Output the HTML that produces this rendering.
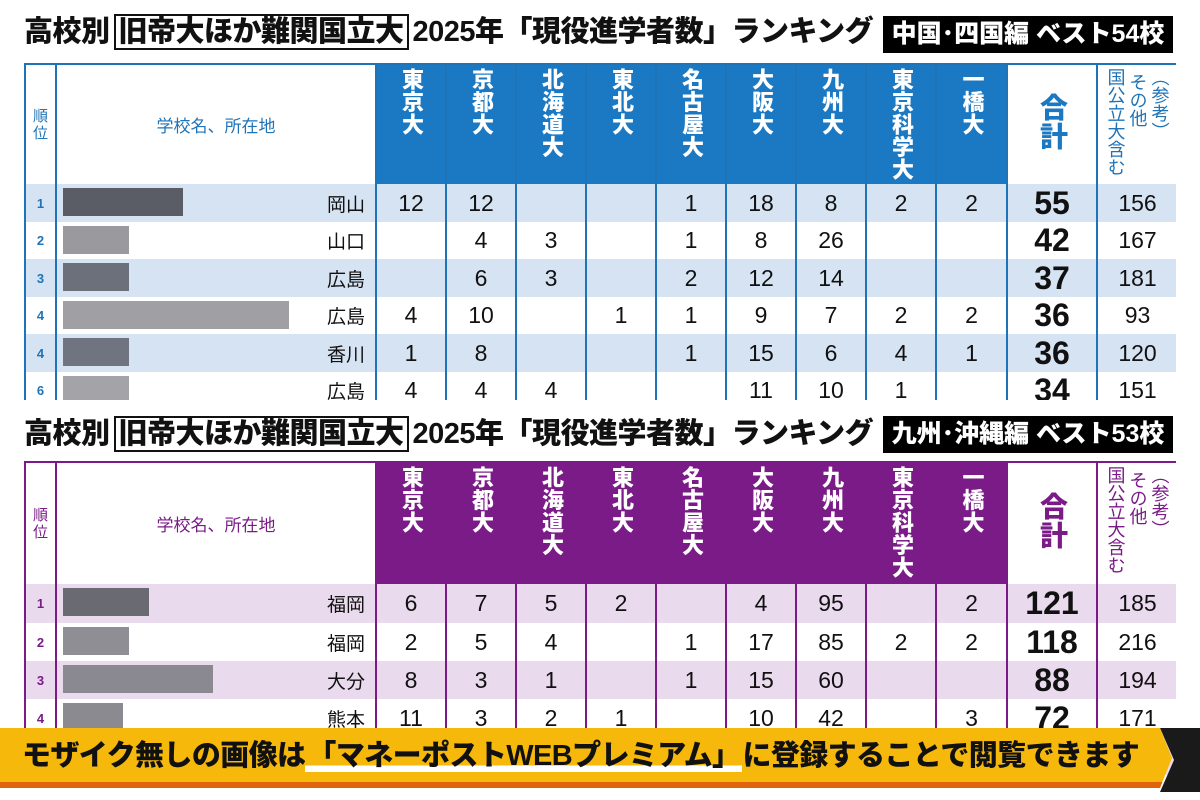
<!DOCTYPE html>
<html><head><meta charset="utf-8"><style>
*{margin:0;padding:0;box-sizing:border-box}
body{width:1200px;height:800px;overflow:hidden;background:#fff;font-family:"Liberation Sans","Noto Sans CJK JP",sans-serif;position:relative}
.title{position:absolute;left:24px;height:40px;font-weight:900;font-size:29px;line-height:40px;color:#111;white-space:nowrap;letter-spacing:-0.5px}
.title .bx{border:2px solid #111;padding:0 3px;margin:0 4px}
.tag{position:absolute;background:#000;color:#fff;font-weight:900;font-size:25px;line-height:37px;text-align:center;white-space:nowrap}
.wrap{position:absolute;left:24px;width:1152px;overflow:hidden}
table{border-collapse:collapse;table-layout:fixed;width:1152px}
td{text-align:center;font-size:23px;color:#111;overflow:hidden;white-space:nowrap;padding:0}
.hh{height:116px;overflow:hidden;padding-top:3px}
.v{writing-mode:vertical-rl;display:inline-block;font-size:22px;font-weight:900;color:#fff;line-height:26px;letter-spacing:0.5px}
.rk{font-size:13px;font-weight:700}
.pf{text-align:right;padding-right:10px;font-size:19px}
.tot{font-size:32px;font-weight:900}
.b td{border-left:2px solid #1f73b7;border-right:2px solid #1f73b7}
.b .h td{border-top:2px solid #1f73b7}
.b .hc{background:#1b78c2}
.b .l{background:#d6e3f3}
.b .rk,.b .sm{color:#1f73b7}
.p td{border-left:2px solid #7a1b87;border-right:2px solid #7a1b87}
.p .h td{border-top:2px solid #7a1b87}
.p .hc{background:#7a1b87}
.p .l{background:#eadaee}
.p .rk,.p .sm{color:#7a1b87}
.sm{font-size:17px;font-weight:400}
.sv{writing-mode:vertical-rl;display:inline-block;font-size:18px;line-height:22px;text-align:left;font-weight:400}
.tt{writing-mode:vertical-rl;display:inline-block;font-size:28px;font-weight:900;line-height:30px;letter-spacing:1px}
.mz{position:relative}
.mz i{position:absolute;top:4px;height:28px;display:block}
.banner{position:absolute;left:0;top:728px;width:1172px;height:60px;background:#f6b80a;border-bottom:6px solid #e0640c;clip-path:polygon(0 0,1160px 0,1172px 30px,1160px 60px,0 60px)}
.btx{position:absolute;left:22px;top:732px;font-size:29px;font-weight:900;color:#111;white-space:nowrap;letter-spacing:-0.6px}
.btx span{background:linear-gradient(#f6b80a 0,#f6b80a 80%,#fff 80%);padding:0 2px}
.darr{position:absolute;left:1160px;top:728px;width:40px;height:64px;background:#1a1a1a;clip-path:polygon(0 0,40px 0,40px 64px,0 64px,14px 32px)}
</style></head><body>

<div class="title" style="top:12px">高校別<span class="bx">旧帝大ほか難関国立大</span>2025年「現役進学者数」ランキング</div>
<div class="tag" style="left:883px;top:16px;width:290px">中国･四国編 ベスト54校</div>

<div class="wrap b" style="top:63px;height:337px">
<table>
<colgroup><col style="width:31px"><col style="width:320px"><col style="width:70px"><col style="width:70px"><col style="width:70px"><col style="width:70px"><col style="width:70px"><col style="width:70px"><col style="width:70px"><col style="width:70px"><col style="width:71px"><col style="width:90px"><col style="width:81px"></colgroup>
<tr class="h" style="height:120px">
<td class="rk sm" style="font-size:15px;line-height:17px;font-weight:400">順<br>位</td>
<td class="sm">学校名、所在地</td>
<td class="hc" style="vertical-align:top"><div class="hh"><span class="v">東京大</span></div></td>
<td class="hc" style="vertical-align:top"><div class="hh"><span class="v">京都大</span></div></td>
<td class="hc" style="vertical-align:top"><div class="hh"><span class="v">北海道大</span></div></td>
<td class="hc" style="vertical-align:top"><div class="hh"><span class="v">東北大</span></div></td>
<td class="hc" style="vertical-align:top"><div class="hh"><span class="v">名古屋大</span></div></td>
<td class="hc" style="vertical-align:top"><div class="hh"><span class="v">大阪大</span></div></td>
<td class="hc" style="vertical-align:top"><div class="hh"><span class="v">九州大</span></div></td>
<td class="hc" style="vertical-align:top"><div class="hh"><span class="v">東京科学大</span></div></td>
<td class="hc" style="vertical-align:top"><div class="hh"><span class="v">一橋大</span></div></td>
<td><span class="tt" style="color:#1b78c2">合計</span></td>
<td class="sm" style="vertical-align:top"><div class="hh"><span class="sv">（参考）<br>&nbsp;その他<br>国公立大含む</span></div></td>
</tr>
<tr class="l" style="height:38px"><td class="rk">1</td><td class="pf mz"><i style="left:6px;width:120px;background:#5a5d66"></i>岡山</td><td>12</td><td>12</td><td></td><td></td><td>1</td><td>18</td><td>8</td><td>2</td><td>2</td><td class="tot">55</td><td>156</td></tr>
<tr style="height:37px"><td class="rk">2</td><td class="pf mz"><i style="left:6px;width:66px;background:#9a9a9e"></i>山口</td><td></td><td>4</td><td>3</td><td></td><td>1</td><td>8</td><td>26</td><td></td><td></td><td class="tot">42</td><td>167</td></tr>
<tr class="l" style="height:38px"><td class="rk">3</td><td class="pf mz"><i style="left:6px;width:66px;background:#6c707a"></i>広島</td><td></td><td>6</td><td>3</td><td></td><td>2</td><td>12</td><td>14</td><td></td><td></td><td class="tot">37</td><td>181</td></tr>
<tr style="height:37px"><td class="rk">4</td><td class="pf mz"><i style="left:6px;width:226px;background:#a0a0a4"></i>広島</td><td>4</td><td>10</td><td></td><td>1</td><td>1</td><td>9</td><td>7</td><td>2</td><td>2</td><td class="tot">36</td><td>93</td></tr>
<tr class="l" style="height:38px"><td class="rk">4</td><td class="pf mz"><i style="left:6px;width:66px;background:#707480"></i>香川</td><td>1</td><td>8</td><td></td><td></td><td>1</td><td>15</td><td>6</td><td>4</td><td>1</td><td class="tot">36</td><td>120</td></tr>
<tr style="height:37px"><td class="rk">6</td><td class="pf mz"><i style="left:6px;width:66px;background:#a4a4a8"></i>広島</td><td>4</td><td>4</td><td>4</td><td></td><td></td><td>11</td><td>10</td><td>1</td><td></td><td class="tot">34</td><td>151</td></tr>
</table></div>

<div class="title" style="top:414px">高校別<span class="bx">旧帝大ほか難関国立大</span>2025年「現役進学者数」ランキング</div>
<div class="tag" style="left:883px;top:416px;width:290px">九州･沖縄編 ベスト53校</div>

<div class="wrap p" style="top:461px;height:339px">
<table>
<colgroup><col style="width:31px"><col style="width:320px"><col style="width:70px"><col style="width:70px"><col style="width:70px"><col style="width:70px"><col style="width:70px"><col style="width:70px"><col style="width:70px"><col style="width:70px"><col style="width:71px"><col style="width:90px"><col style="width:81px"></colgroup>
<tr class="h" style="height:122px">
<td class="rk sm" style="font-size:15px;line-height:17px;font-weight:400">順<br>位</td>
<td class="sm">学校名、所在地</td>
<td class="hc" style="vertical-align:top"><div class="hh"><span class="v">東京大</span></div></td>
<td class="hc" style="vertical-align:top"><div class="hh"><span class="v">京都大</span></div></td>
<td class="hc" style="vertical-align:top"><div class="hh"><span class="v">北海道大</span></div></td>
<td class="hc" style="vertical-align:top"><div class="hh"><span class="v">東北大</span></div></td>
<td class="hc" style="vertical-align:top"><div class="hh"><span class="v">名古屋大</span></div></td>
<td class="hc" style="vertical-align:top"><div class="hh"><span class="v">大阪大</span></div></td>
<td class="hc" style="vertical-align:top"><div class="hh"><span class="v">九州大</span></div></td>
<td class="hc" style="vertical-align:top"><div class="hh"><span class="v">東京科学大</span></div></td>
<td class="hc" style="vertical-align:top"><div class="hh"><span class="v">一橋大</span></div></td>
<td><span class="tt" style="color:#7a1b87">合計</span></td>
<td class="sm" style="vertical-align:top"><div class="hh"><span class="sv">（参考）<br>&nbsp;その他<br>国公立大含む</span></div></td>
</tr>
<tr class="l" style="height:39px"><td class="rk">1</td><td class="pf mz"><i style="left:6px;width:86px;background:#6a6a72"></i>福岡</td><td>6</td><td>7</td><td>5</td><td>2</td><td></td><td>4</td><td>95</td><td></td><td>2</td><td class="tot">121</td><td>185</td></tr>
<tr style="height:38px"><td class="rk">2</td><td class="pf mz"><i style="left:6px;width:66px;background:#8e8e94"></i>福岡</td><td>2</td><td>5</td><td>4</td><td></td><td>1</td><td>17</td><td>85</td><td>2</td><td>2</td><td class="tot">118</td><td>216</td></tr>
<tr class="l" style="height:38px"><td class="rk">3</td><td class="pf mz"><i style="left:6px;width:150px;background:#8a8890"></i>大分</td><td>8</td><td>3</td><td>1</td><td></td><td>1</td><td>15</td><td>60</td><td></td><td></td><td class="tot">88</td><td>194</td></tr>
<tr style="height:38px"><td class="rk">4</td><td class="pf mz"><i style="left:6px;width:60px;background:#8a8a90"></i>熊本</td><td>11</td><td>3</td><td>2</td><td>1</td><td></td><td>10</td><td>42</td><td></td><td>3</td><td class="tot">72</td><td>171</td></tr>
<tr class="l" style="height:38px"><td class="rk">5</td><td class="pf mz"><i style="left:6px;width:90px;background:#9a9aa0"></i>福岡</td><td>30</td><td>7</td><td></td><td>1</td><td></td><td>3</td><td>19</td><td>3</td><td>3</td><td class="tot">66</td><td>97</td></tr>
</table></div>

<div class="darr"></div>
<div class="banner"></div>
<div class="btx">モザイク無しの画像は<span>「マネーポストWEBプレミアム」</span>に登録することで閲覧できます</div>
</body></html>
